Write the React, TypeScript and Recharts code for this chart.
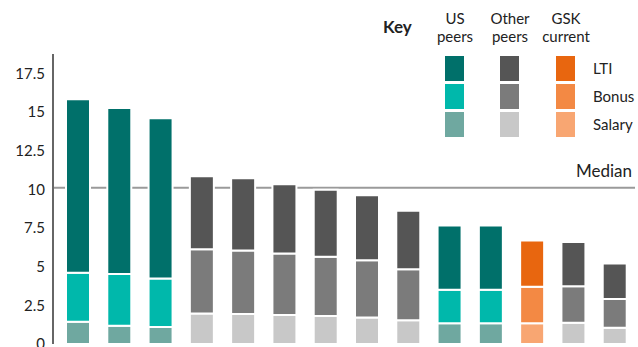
import { BarChart, Bar, XAxis, YAxis, Cell, CartesianGrid } from "recharts";

// peer group of each bar, left to right
const groups = ["us", "us", "us", "other", "other", "other", "other", "other", "other", "us", "us", "gsk", "other", "other"];
const salary = [1.44, 1.18, 1.1, 1.98, 1.94, 1.87, 1.81, 1.72, 1.53, 1.34, 1.34, 1.34, 1.38, 1.05];
const bonus = [3.16, 3.34, 3.14, 4.15, 4.11, 3.98, 3.83, 3.7, 3.31, 2.17, 2.17, 2.36, 2.36, 1.86];
const lti = [11.22, 10.74, 10.35, 4.72, 4.67, 4.48, 4.34, 4.2, 3.77, 4.15, 4.15, 2.99, 2.86, 2.3];
const median = 10.1;
const yTicks = [0, 2.5, 5, 7.5, 10, 12.5, 15, 17.5];

const palette: Record<string, { lti: string; bonus: string; salary: string }> = {
  us: { lti: "#00706a", bonus: "#00b8ab", salary: "#6fa8a0" },
  other: { lti: "#555555", bonus: "#7b7b7b", salary: "#c8c8c8" },
  gsk: { lti: "#e8660f", bonus: "#f38944", salary: "#f8a672" },
};

const keyColumns = [
  { group: "us", title: ["US", "peers"], x: 455 },
  { group: "other", title: ["Other", "peers"], x: 510 },
  { group: "gsk", title: ["GSK", "current"], x: 566 },
];
const keyRows = [
  { part: "lti", label: "LTI", y: 56 },
  { part: "bonus", label: "Bonus", y: 84 },
  { part: "salary", label: "Salary", y: 112 },
] as const;

const data = groups.map((g, i) => ({
  name: `${g}-${i + 1}`,
  group: g,
  salary: salary[i],
  bonus: bonus[i],
  lti: lti[i],
}));

const font = "Lato, 'Open Sans', sans-serif";

export default function App() {
  return (
    <div style={{ position: "absolute", left: 0, top: 0, width: 638, height: 347, fontFamily: font, overflow: "hidden" }}>
      <BarChart width={638} height={347} data={data} margin={{ top: 54, right: 3, bottom: 3, left: 0 }}>
        {/* median line: a single grid line so it sits behind the bars */}
        <CartesianGrid vertical={false} horizontalValues={[median]} stroke="#9a9a9a" strokeWidth={2} />
        <XAxis
          dataKey="name"
          tick={false}
          tickLine={false}
          height={0}
          axisLine={{ stroke: "#666", strokeWidth: 2 }}
          padding={{ left: 4, right: 0 }}
        />
        <YAxis
          width={53}
          domain={[0, 18.75]}
          ticks={yTicks}
          interval={0}
          tickLine={false}
          tickMargin={2}
          axisLine={{ stroke: "#666", strokeWidth: 2 }}
          tick={{ fill: "#222", fontSize: 15, fontFamily: font }}
        />
        {(["salary", "bonus", "lti"] as const).map((part) => (
          <Bar key={part} dataKey={part} stackId="pay" barSize={24} stroke="#fff" strokeWidth={2} isAnimationActive={false}>
            {data.map((d) => (
              <Cell key={d.name} fill={palette[d.group][part]} />
            ))}
          </Bar>
        ))}
      </BarChart>

      <div style={{ position: "absolute", right: 6, top: 160, fontSize: 17, color: "#222" }}>Median</div>

      {/* key */}
      <div style={{ position: "absolute", left: 383, top: 16, fontSize: 17, fontWeight: 700, color: "#222" }}>Key</div>
      {keyColumns.map((c) => (
        <div key={c.group}>
          <div
            style={{
              position: "absolute",
              left: c.x - 40,
              width: 80,
              top: 9,
              textAlign: "center",
              fontSize: 15,
              lineHeight: "18px",
              color: "#222",
            }}
          >
            {c.title[0]}
            <br />
            {c.title[1]}
          </div>
          {keyRows.map((r) => (
            <div
              key={r.part}
              style={{
                position: "absolute",
                left: c.x - 10,
                top: r.y,
                width: 19,
                height: 25,
                background: palette[c.group][r.part],
              }}
            />
          ))}
        </div>
      ))}
      {keyRows.map((r) => (
        <div key={r.label} style={{ position: "absolute", left: 593, top: r.y + 3, fontSize: 15, color: "#222" }}>
          {r.label}
        </div>
      ))}
    </div>
  );
}
